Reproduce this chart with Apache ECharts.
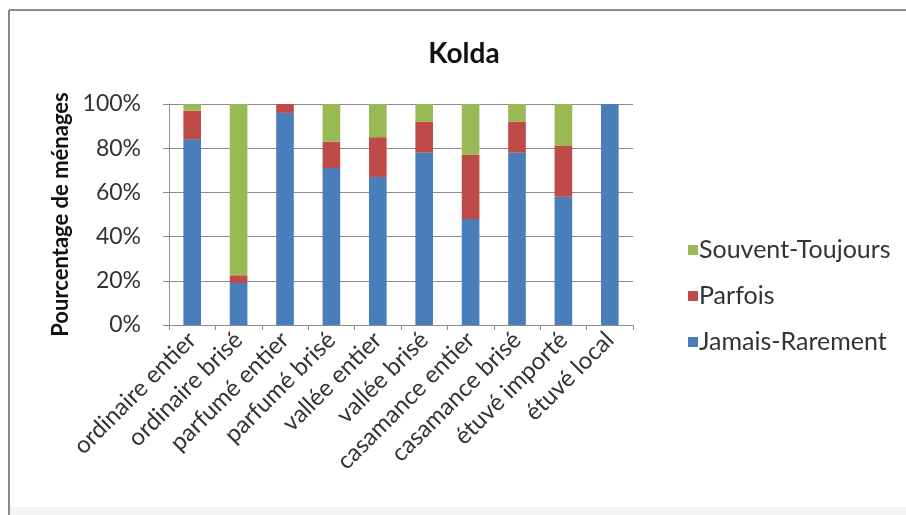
<!DOCTYPE html>
<html>
<head>
<meta charset="utf-8">
<script src="https://cdn.jsdelivr.net/npm/echarts@6/dist/echarts.min.js"></script>
<style>
  html, body { margin: 0; padding: 0; background: #fff; }
  #chart { width: 906px; height: 515px; }
</style>
</head>
<body>
<div id="chart"></div>
<script>
// Rice types surveyed in Kolda
const categories = [
  'ordinaire entier', 'ordinaire brisé', 'parfumé entier', 'parfumé brisé',
  'vallée entier', 'vallée brisé', 'casamance entier', 'casamance brisé',
  'étuvé importé', 'étuvé local'
];
// Share of households (%) per frequency class
const jamaisRarement = [84, 19, 96, 71, 67, 78, 48, 78, 58, 100];
const parfois        = [13, 3.5, 4, 12, 18, 14, 29, 14, 23, 0];
const souventToujours = [3, 77.5, 0, 17, 15, 8, 23, 8, 19, 0];
const yTicks = [0, 20, 40, 60, 80, 100];

const FONT = 'Lato';
const chart = echarts.init(document.getElementById('chart'));

const barSeries = (name, data, color) => ({
  name, type: 'bar', stack: 'total', data,
  barWidth: '38%',
  itemStyle: { color },
  emphasis: { disabled: true }
});

chart.setOption({
  animation: false,
  textStyle: { fontFamily: FONT },
  title: {
    text: 'Kolda', left: 459, top: 35, textAlign: 'center',
    textStyle: { fontFamily: FONT, fontSize: 28, fontWeight: 'bold', color: '#111' }
  },
  legend: {
    orient: 'vertical', left: 683, top: 230,
    icon: 'rect', itemWidth: 10, itemHeight: 10, itemGap: 16,
    data: ['Souvent-Toujours', 'Parfois', 'Jamais-Rarement'],
    textStyle: { fontFamily: FONT, fontSize: 25, lineHeight: 30, color: '#333', padding: [0, 0, 0, -4] }
  },
  grid: { left: 169, right: 273, top: 104, bottom: 190 },
  xAxis: {
    type: 'category', data: categories,
    axisLine: { lineStyle: { color: '#8c8c8c' } },
    axisTick: { show: true, alignWithLabel: false, length: 5, lineStyle: { color: '#8c8c8c' } },
    axisLabel: { rotate: 45, fontFamily: FONT, fontSize: 24, color: '#333', margin: 11, interval: 0 }
  },
  yAxis: {
    type: 'value', min: yTicks[0], max: yTicks[yTicks.length - 1], interval: 20,
    name: 'Pourcentage de ménages', nameLocation: 'middle', nameGap: 94,
    nameTextStyle: { fontFamily: FONT, fontSize: 22, fontWeight: 'bold', color: '#111' },
    axisLine: { show: true, lineStyle: { color: '#8c8c8c' } },
    axisTick: { show: true, length: 6, lineStyle: { color: '#8c8c8c' } },
    splitLine: { lineStyle: { color: '#8c8c8c' } },
    axisLabel: { formatter: v => v + '%', fontFamily: FONT, fontSize: 23, color: '#333', margin: 28 }
  },
  series: [
    barSeries('Jamais-Rarement', jamaisRarement, '#4a7ebb'),
    barSeries('Parfois', parfois, '#be4b48'),
    barSeries('Souvent-Toujours', souventToujours, '#98b954')
  ],
  graphic: [
    { type: 'line', silent: true, shape: { x1: 9, y1: 10, x2: 906, y2: 10 },
      style: { stroke: '#8a8a8a', lineWidth: 2 } },
    { type: 'line', silent: true, shape: { x1: 9, y1: 10, x2: 9, y2: 515 },
      style: { stroke: '#8a8a8a', lineWidth: 2 } },
    { type: 'rect', silent: true, shape: { x: 10, y: 507, width: 896, height: 8 },
      style: { fill: '#f4f4f4' } }
  ]
});
</script>
</body>
</html>
